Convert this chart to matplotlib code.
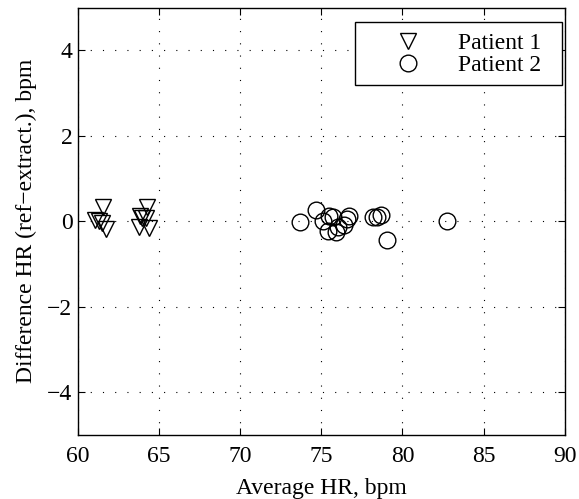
import matplotlib
matplotlib.use("Agg")
import matplotlib.pyplot as plt
from matplotlib.patches import Rectangle

plt.rcParams['font.family'] = ['Liberation Serif', 'DejaVu Serif']
plt.rcParams['mathtext.fontset'] = 'stix'

p1_x = [61.05, 61.3, 61.57, 61.7, 61.5, 64.28, 63.82, 63.92, 63.76, 64.37, 64.19]
p1_y = [0.03, 0.0, 0.33, -0.19, -0.05, 0.34, 0.13, 0.08, -0.14, -0.16, 0.08]

p2_x = [73.68, 74.7, 75.1, 75.5, 75.7, 76.6, 76.7, 75.4, 75.9, 76.05, 76.4,
        78.2, 78.4, 78.7, 79.04, 82.72]
p2_y = [-0.03, 0.26, 0.0, 0.13, 0.1, 0.06, 0.13, -0.22, -0.26, -0.13, -0.08,
        0.1, 0.1, 0.15, -0.43, 0.0]

xticks = [60, 65, 70, 75, 80, 85, 90]
yticks = [-4, -2, 0, 2, 4]

FS = 17

fig = plt.figure(figsize=(5.79, 4.99), dpi=100)
L, R, B, T = 78, 564.7, 434.7, 7.7
W = R - L
H = B - T
ax = fig.add_axes([L / 579, 1 - B / 499, W / 579, H / 499])

ax.plot(p1_x, p1_y, linestyle='none', marker='v', markersize=12,
        markerfacecolor='none', markeredgecolor='black', markeredgewidth=1.0,
        label='Patient 1')
ax.plot(p2_x, p2_y, linestyle='none', marker='o', markersize=12,
        markerfacecolor='none', markeredgecolor='black', markeredgewidth=1.0,
        label='Patient 2')

ax.set_xlim(60, 90)
ax.set_ylim(-5, 5)
ax.set_xticks(xticks)
ax.set_yticks(yticks)
ax.set_yticklabels(['\u22124', '\u22122', '0', '2', '4'])
ax.tick_params(direction='in', top=True, right=True, length=5, width=0.8,
               labelsize=FS)
ax.tick_params(axis='x', pad=8)
ax.tick_params(axis='y', pad=4)
ax.grid(True, color='black', linestyle=(0, (1, 10)), linewidth=0.8)
for s in ax.spines.values():
    s.set_linewidth(1.0)

ax.set_xlabel('Average HR, bpm', fontsize=FS, labelpad=8)
ax.set_ylabel('Difference HR (ref\u2212extract.), bpm', fontsize=FS, labelpad=7)

# legend frame (MATLAB style box)
bx0, bx1, by0, by1 = 355, 561.7, 21.7, 84.5
ax.add_patch(Rectangle(((bx0 - L) / W, (B - by1) / H), (bx1 - bx0) / W,
                       (by1 - by0) / H, transform=ax.transAxes,
                       facecolor='white', edgecolor='black', linewidth=1.0,
                       zorder=4.5, clip_on=False))

fs_px = FS * 100 / 72
leg = ax.legend(loc='upper left', fontsize=FS, frameon=False,
                bbox_to_anchor=((bx0 - L) / W, (B - (by0 + 3)) / H),
                borderaxespad=0, handletextpad=5.3 / fs_px, borderpad=0.35,
                labelspacing=0.0, handlelength=89.4 / fs_px)
leg.set_zorder(5)

fig.savefig('out.png', dpi=100)
